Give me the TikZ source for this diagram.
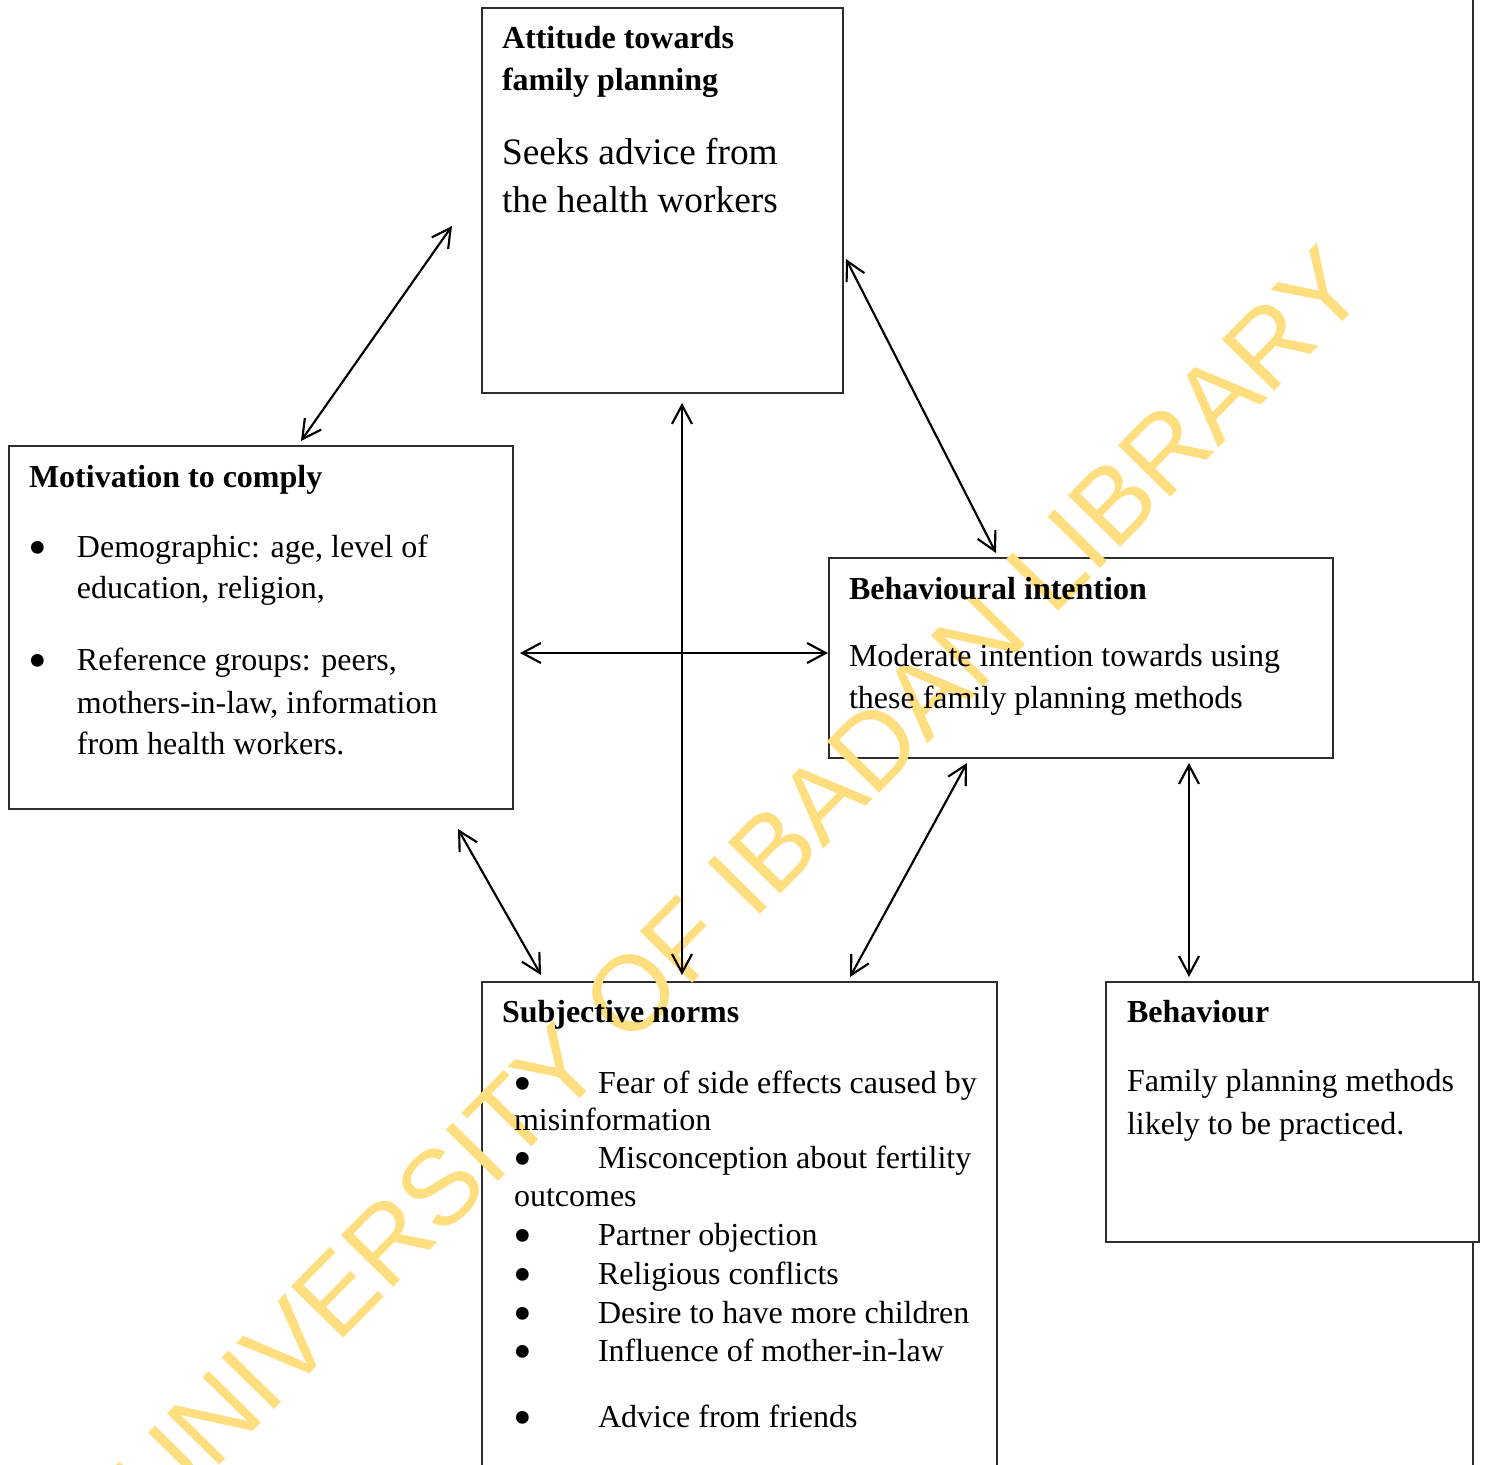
\documentclass[tikz,border=0pt]{standalone}
\usepackage{fontspec}
\setmainfont{Liberation Serif}
\newfontfamily\wmfont{Liberation Sans}
\usetikzlibrary{arrows.meta,fit}
\definecolor{wmyellow}{RGB}{255,222,128}
\definecolor{boxline}{RGB}{45,45,45}
\tikzset{
 box/.style={draw=boxline, line width=0.55pt, inner sep=0pt, outer sep=0pt},
 filledbox/.style={box, fill=white},
 barb/.tip={Straight Barb[length=7pt,width=7.5pt,line width=0.8pt]},
 conn/.style={draw=black, line width=0.8pt, barb-barb},
 txt/.style={anchor=base west, inner sep=0pt, outer sep=0pt, font=\fontsize{12}{14}\selectfont},
 bul/.style={txt, font=\fontsize{20}{20}\selectfont},
 ttl/.style={txt, font=\fontsize{12}{14}\selectfont\bfseries},
 big/.style={txt, font=\fontsize{14}{16}\selectfont},
 wm/.style={text=wmyellow, font=\wmfont\fontsize{40}{48}\selectfont, rotate=45.5, inner sep=0pt}
}
\begin{document}
\begin{tikzpicture}[x=0.375pt,y=-0.375pt]
\clip (0,0) rectangle (1488,1465);
\useasboundingbox (0,0) rectangle (1488,1465);
% right margin line
\coordinate (vt) at (1473,0);
\coordinate (vb) at (1473,1465);
\draw[draw=boxline, line width=0.6pt] (vt) -- (vb);
% boxes
\node[box, fit={(482,8) (843,393)}] (att) {};
\node[box, fit={(9,446) (513,809)}] (mot) {};
\node[box, fit={(829,558) (1333,758)}] (bi) {};
\node[box, fit={(482,982) (997,1480)}] (sn) {};
\node[filledbox, fit={(1106,982) (1479,1242)}] (beh) {};
% watermark
\node[wm] (wmark) at (739,884) {UNIVERSITY OF IBADAN LIBRARY};
% Attitude
\node[ttl] (a1) at (502,49) {Attitude towards};
\node[ttl] (a2) at (502,91) {family planning};
\node[big] (a3) at (502,165) {Seeks advice from};
\node[big] (a4) at (502,213) {the health workers};
% Motivation
\node[ttl] (m0) at (29,488) {Motivation to comply};
\node[bul] (mb1) at (28,566) {•};
\node[txt] (m1) at (77,558) {Demographic: age, level of};
\node[txt] (m2) at (77,599) {education, religion,};
\node[bul] (mb2) at (28,679) {•};
\node[txt] (m3) at (77,671) {Reference groups: peers,};
\node[txt] (m4) at (77,714) {mothers-in-law, information};
\node[txt] (m5) at (77,755) {from health workers.};
% Behavioural intention
\node[ttl] (b0) at (849,600) {Behavioural intention};
\node[txt] (b1) at (849,667) {Moderate intention towards using};
\node[txt] (b2) at (849,709) {these family planning methods};
% Subjective norms
\node[ttl] (s0) at (502,1023) {Subjective norms};
\node[bul] (sb1) at (513,1102) {•};
\node[txt] (s1) at (598,1094) {Fear of side effects caused by};
\node[txt] (s1b) at (514,1131) {misinformation};
\node[bul] (sb2) at (513,1177) {•};
\node[txt] (s2) at (598,1169) {Misconception about fertility};
\node[txt] (s2b) at (514,1207) {outcomes};
\node[bul] (sb3) at (513,1254) {•};
\node[txt] (s3) at (598,1246) {Partner objection};
\node[bul] (sb4) at (513,1293) {•};
\node[txt] (s4) at (598,1285) {Religious conflicts};
\node[bul] (sb5) at (513,1332) {•};
\node[txt] (s5) at (598,1324) {Desire to have more children};
\node[bul] (sb6) at (513,1370) {•};
\node[txt] (s6) at (598,1362) {Influence of mother-in-law};
\node[bul] (sb7) at (513,1436) {•};
\node[txt] (s7) at (598,1428) {Advice from friends};
% Behaviour
\node[ttl] (h0) at (1127,1023) {Behaviour};
\node[txt] (h1) at (1127,1092) {Family planning methods};
\node[txt] (h2) at (1127,1135) {likely to be practiced.};
% connector end points
\coordinate (c1a) at (301,441);  \coordinate (c1b) at (452,226);
\coordinate (c2a) at (846,259);  \coordinate (c2b) at (996,553);
\coordinate (c3a) at (682,403);  \coordinate (c3b) at (682,975);
\coordinate (c4a) at (520,653);  \coordinate (c4b) at (828,653);
\coordinate (c5a) at (458,829);  \coordinate (c5b) at (541,975);
\coordinate (c6a) at (967,763);  \coordinate (c6b) at (850,977);
\coordinate (c7a) at (1189,763); \coordinate (c7b) at (1189,977);
\draw[conn] (c1a) -- (c1b);
\draw[conn] (c2a) -- (c2b);
\draw[conn] (c3a) -- (c3b);
\draw[conn] (c4a) -- (c4b);
\draw[conn] (c5a) -- (c5b);
\draw[conn] (c6a) -- (c6b);
\draw[conn] (c7a) -- (c7b);
\end{tikzpicture}
\end{document}
